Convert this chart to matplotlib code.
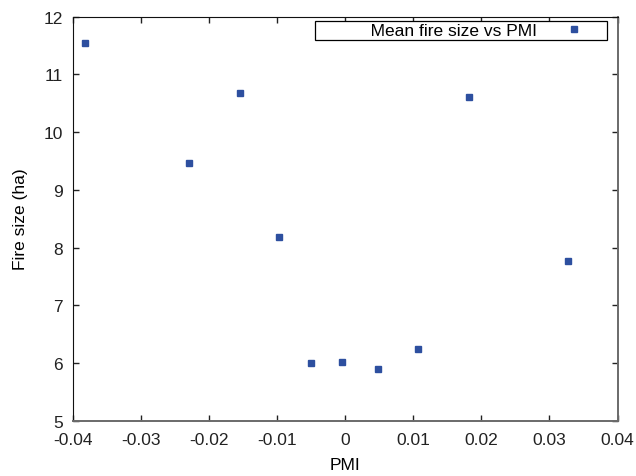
import matplotlib

matplotlib.use("Agg")
import matplotlib.pyplot as plt

# mean fire size (ha) against PMI
pmi = [-0.0382, -0.0229, -0.0154, -0.0097, -0.0050, -0.0004, 0.0048, 0.0107, 0.0182, 0.0327]
fire_size = [11.55, 9.47, 10.67, 8.18, 6.00, 6.02, 5.89, 6.24, 10.61, 7.76]
x_ticks = [-0.04, -0.03, -0.02, -0.01, 0.0, 0.01, 0.02, 0.03, 0.04]
x_tick_labels = ["-0.04", "-0.03", "-0.02", "-0.01", "0", "0.01", "0.02", "0.03", "0.04"]
y_ticks = [5, 6, 7, 8, 9, 10, 11, 12]
series_label = "Mean fire size vs PMI"

plt.rcParams["font.family"] = ["Liberation Sans", "DejaVu Sans"]
FS = 12.5

fig = plt.figure(figsize=(6.36, 4.77), dpi=100)
ax = fig.add_axes([0.114, 0.116, 0.857, 0.847])

ax.plot(pmi, fire_size, linestyle="none", marker="s", markersize=4.3,
        color="#2d4f9f", label=series_label)

ax.set_xlim(-0.04, 0.04)
ax.set_ylim(5, 12)
ax.set_xticks(x_ticks)
ax.set_xticklabels(x_tick_labels)
ax.set_yticks(y_ticks)
ax.tick_params(direction="in", length=4, width=1, top=True, right=True,
               labelsize=FS, colors="#222222")
ax.tick_params(axis="x", pad=8)
ax.tick_params(axis="y", pad=7)
for side in ["left", "top"]:
    ax.spines[side].set_color("#111111")
for side in ["bottom", "right"]:
    ax.spines[side].set_color("#6a6a6a")
    ax.spines[side].set_linewidth(1.4)

ax.set_xlabel("PMI", fontsize=FS, labelpad=7)
ax.set_ylabel("Fire size (ha)", fontsize=FS, labelpad=11)

# gnuplot-style key: wide box, text first, sample on the right
leg = ax.legend(loc="upper right", bbox_to_anchor=(0.981, 0.99), markerfirst=False,
                fancybox=False, framealpha=1, edgecolor="black", fontsize=FS,
                borderpad=0.12, handlelength=3.6, handletextpad=0.3, borderaxespad=0)
leg.get_frame().set_linewidth(0.9)
leg.get_texts()[0].set_text(" " * 11 + series_label)

fig.savefig("out.png", dpi=100)
